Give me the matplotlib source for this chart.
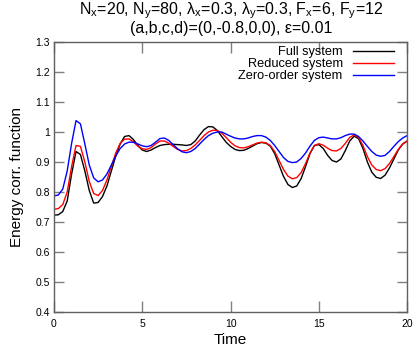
import numpy as np
import matplotlib
matplotlib.use("Agg")
import matplotlib.pyplot as plt

plt.rcParams['font.family'] = ['Liberation Sans', 'DejaVu Sans']
plt.rcParams['mathtext.default'] = 'regular'

time = np.arange(0, 20.001, 0.25)

full = [0.723, 0.724, 0.735, 0.77, 0.86, 0.935, 0.925, 0.87, 0.805, 0.763,
        0.765, 0.785, 0.82, 0.87, 0.92, 0.96, 0.985, 0.988, 0.975, 0.955,
        0.94, 0.935, 0.94, 0.948, 0.955, 0.958, 0.959, 0.959, 0.958, 0.957,
        0.955, 0.958, 0.97, 0.99, 1.008, 1.018, 1.017, 1.005, 0.985, 0.966,
        0.952, 0.942, 0.938, 0.939, 0.945, 0.953, 0.961, 0.965, 0.963, 0.953,
        0.928, 0.89, 0.852, 0.825, 0.815, 0.82, 0.845, 0.885, 0.928, 0.955,
        0.958, 0.945, 0.922, 0.905, 0.9, 0.91, 0.938, 0.97, 0.986, 0.978,
        0.945, 0.9, 0.866, 0.849, 0.845, 0.856, 0.88, 0.91, 0.94, 0.96,
        0.97]

reduced = [0.742, 0.745, 0.758, 0.80, 0.885, 0.955, 0.952, 0.90, 0.835, 0.795,
           0.788, 0.805, 0.84, 0.885, 0.93, 0.962, 0.976, 0.977, 0.967, 0.953,
           0.944, 0.942, 0.948, 0.96, 0.97, 0.97, 0.963, 0.952, 0.942, 0.937,
           0.938, 0.945, 0.957, 0.972, 0.988, 1.0, 1.006, 1.005, 0.996, 0.982,
           0.966, 0.954, 0.948, 0.947, 0.951, 0.957, 0.963, 0.966, 0.964, 0.955,
           0.935, 0.905, 0.875, 0.853, 0.844, 0.848, 0.865, 0.895, 0.93, 0.955,
           0.961, 0.956, 0.946, 0.938, 0.937, 0.945, 0.962, 0.982, 0.99, 0.982,
           0.955, 0.918, 0.89, 0.875, 0.871, 0.878, 0.895, 0.918, 0.942, 0.96,
           0.969]

zero_order = [0.787, 0.79, 0.81, 0.87, 0.962, 1.038, 1.027, 0.96, 0.89, 0.847,
              0.834, 0.84, 0.86, 0.89, 0.92, 0.945, 0.96, 0.966, 0.966, 0.96,
              0.954, 0.951, 0.955, 0.966, 0.978, 0.98, 0.972, 0.958, 0.944, 0.934,
              0.931, 0.935, 0.945, 0.96, 0.975, 0.988, 0.996, 1.0, 1.0, 0.993,
              0.986, 0.98, 0.977, 0.977, 0.98, 0.985, 0.988, 0.988, 0.983, 0.972,
              0.955, 0.935, 0.915, 0.902, 0.898, 0.9, 0.912, 0.93, 0.953, 0.972,
              0.981, 0.983, 0.98, 0.977, 0.977, 0.981, 0.988, 0.993, 0.993, 0.985,
              0.97, 0.952, 0.935, 0.923, 0.919, 0.922, 0.935, 0.952, 0.968, 0.98,
              0.988]

labels = ['Full system', 'Reduced system', 'Zero-order system']
colors = ['black', 'red', 'blue']
xticks = [0, 5, 10, 15, 20]
yticks = [0.4, 0.5, 0.6, 0.7, 0.8, 0.9, 1.0, 1.1, 1.2, 1.3]
ytick_labels = ['0.4', '0.5', '0.6', '0.7', '0.8', '0.9', '1', '1.1', '1.2', '1.3']

fig = plt.figure(figsize=(4.15, 3.5), dpi=100)
ax = fig.add_axes([0.130, 0.1086, 0.851, 0.7714])

for y, lab, c in zip([full, reduced, zero_order], labels, colors):
    ax.plot(time, y, color=c, lw=1.0, label=lab)

ax.set_xlim(0, 20)
ax.set_ylim(0.4, 1.3)
ax.set_xticks(xticks)
ax.set_xticklabels([str(v) for v in xticks])
ax.set_yticks(yticks)
ax.set_yticklabels(ytick_labels)
ax.tick_params(direction='in', top=True, right=True, labelsize=7.5,
               color='#808080', width=1.0)
ax.tick_params(axis='x', length=8, pad=5)
ax.tick_params(axis='y', length=7, pad=3)
for s in ax.spines.values():
    s.set_color('#606060')
    s.set_linewidth(1.0)

ax.set_xlabel('Time', fontsize=11, labelpad=3)
ax.set_ylabel('Energy corr. function', fontsize=11, labelpad=8)

fig.text(0.557, 0.969, 'N$_x$=20, N$_y$=80, λ$_x$=0.3, λ$_y$=0.3, F$_x$=6, F$_y$=12',
         ha='center', va='center', fontsize=11.5)
fig.text(0.557, 0.918, '(a,b,c,d)=(0,-0.8,0,0), ε=0.01',
         ha='center', va='center', fontsize=11.5)

leg = ax.legend(loc='upper right', markerfirst=False, frameon=False,
                fontsize=9.2, handlelength=3.2, labelspacing=0.0,
                borderaxespad=0.15, borderpad=0.2, handletextpad=0.8,
                bbox_to_anchor=(0.975, 1.0))
for t in leg.get_texts():
    t.set_ha('right')

fig.savefig('out.png', dpi=100)
